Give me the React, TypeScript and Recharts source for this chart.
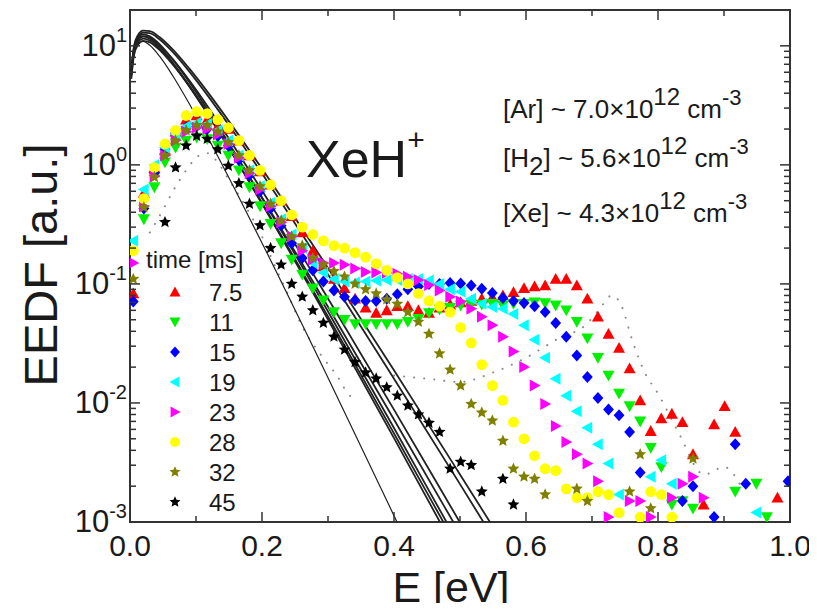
import React from "react";
import { ComposedChart, Line, Scatter, XAxis, YAxis, Customized } from "recharts";

const FONT = "'Liberation Sans', Arial, Helvetica, sans-serif";
const INK = "#1a1a1a";
const FRAME = "#333";

const WIDTH = 817;
const HEIGHT = 611;
const PLOT = { left: 130, right: 790, top: 10, bottom: 522 };
const X_AXIS_H = 40;
const Y_AXIS_W = 60;

// energy grid of the measured EEDFs (eV)
const ENERGY = [
  0.005, 0.021, 0.037, 0.053, 0.069, 0.085, 0.101, 0.117, 0.133, 0.149,
  0.165, 0.181, 0.197, 0.213, 0.229, 0.245, 0.261, 0.277, 0.293, 0.309,
  0.325, 0.341, 0.357, 0.373, 0.389, 0.405, 0.421, 0.437, 0.453, 0.469,
  0.485, 0.501, 0.517, 0.533, 0.549, 0.565, 0.581, 0.597, 0.613, 0.629,
  0.645, 0.661, 0.677, 0.693, 0.709, 0.725, 0.741, 0.757, 0.773, 0.789,
  0.805, 0.821, 0.837, 0.853, 0.869, 0.885, 0.901, 0.917, 0.933, 0.949,
  0.965, 0.981, 0.997,
];

// measured EEDF (a.u.) for each afterglow time, null where nothing was plotted
const EEDF_7_5 = [
  0.083, 0.58, 0.94, 1.32, 1.9, 2.4, 2.6, 2.4, 2.1, 2.0,
  1.6, 1.2, 0.88, 0.68, 0.5, 0.37, 0.27, 0.19, 0.14, 0.11,
  0.092, 0.075, 0.063, 0.057, 0.06, 0.065, 0.065, 0.06, 0.057, 0.063,
  0.067, 0.07, 0.072, 0.075, 0.077, 0.08, 0.085, 0.092, 0.095, 0.097,
  0.11, 0.11, 0.097, 0.075, 0.053, 0.038, 0.029, 0.0195, 0.0105, 0.0058,
  0.0074, 0.0081, 0.0069, 0.0037, 0.0014, 0.0066, 0.0094, 0.0057, null, null,
  null, 0.0016, null,
];
const EEDF_11 = [
  null, 0.35, 0.65, 1.05, 1.4, 1.6, 1.7, 1.65, 1.45, 1.2,
  0.9, 0.65, 0.45, 0.32, 0.22, 0.16, 0.12, 0.092, 0.073, 0.058,
  0.05, 0.046, 0.046, 0.046, 0.046, 0.046, 0.048, 0.051, 0.057, 0.061,
  0.063, 0.066, 0.067, 0.067, 0.068, 0.066, 0.068, 0.068, 0.07, 0.069,
  0.066, 0.06, 0.048, 0.035, 0.024, 0.017, 0.012, 0.0094, 0.007, 0.0042,
  0.0029, 0.0014, 0.0015, 0.0013, null, null, null, 0.0018, null, 0.0021,
  0.0011, null, null,
];
const EEDF_15 = [
  0.071, 0.43, 0.85, 1.35, 1.85, 2.05, 2.1, 2.0, 1.75, 1.45,
  1.1, 0.82, 0.6, 0.43, 0.31, 0.22, 0.165, 0.13, 0.105, 0.088,
  0.078, 0.073, 0.072, 0.072, 0.075, 0.082, 0.09, 0.095, 0.1, 0.1,
  0.102, 0.101, 0.097, 0.091, 0.084, 0.076, 0.072, 0.069, 0.065, 0.058,
  0.047, 0.036, 0.025, 0.0165, 0.011, 0.0088, 0.0079, 0.0057, 0.0026, null,
  null, null, 0.0015, 0.002, null, 0.0011, null, 0.0045, 0.0021, null,
  null, null, 0.0022,
];
const EEDF_19 = [
  0.23, 0.62, 1.0, 1.4, 1.8, 2.1, 2.25, 2.2, 1.95, 1.6,
  1.2, 0.9, 0.66, 0.48, 0.35, 0.26, 0.2, 0.15, 0.125, 0.11,
  0.105, 0.103, 0.105, 0.107, 0.108, 0.108, 0.11, 0.11, 0.107, 0.1,
  0.09, 0.086, 0.075, 0.068, 0.064, 0.062, 0.056, 0.045, 0.034, 0.024,
  0.016, 0.0115, 0.0085, 0.0062, 0.0045, 0.0031, 0.0017, null, null, 0.0024,
  0.0033, 0.0021, null, null, null, null, null, null, null, 0.0012,
  null, null, null,
];
const EEDF_23 = [
  0.15, 0.45, 0.8, 1.2, 1.6, 1.9, 2.05, 2.0, 1.8, 1.5,
  1.15, 0.85, 0.62, 0.45, 0.33, 0.25, 0.19, 0.16, 0.15, 0.15,
  0.145, 0.135, 0.126, 0.125, 0.124, 0.122, 0.115, 0.108, 0.098, 0.088,
  0.078, 0.071, 0.062, 0.053, 0.045, 0.036, 0.027, 0.02, 0.014, 0.0098,
  0.0064, 0.0047, 0.0037, 0.0031, 0.0022, 0.0011, null, 0.0015, 0.0015, 0.0011,
  null, 0.0016, 0.0021, 0.0024, 0.0016, null, null, null, null, null,
  null, null, null,
];
const EEDF_28 = [
  0.19, 0.52, 0.95, 1.5, 1.95, 2.6, 2.8, 2.7, 2.4, 2.05,
  1.6, 1.2, 0.9, 0.68, 0.5, 0.38, 0.3, 0.26, 0.23, 0.21,
  0.2, 0.183, 0.168, 0.148, 0.13, 0.113, 0.1, 0.083, 0.072, 0.065,
  0.058, 0.043, 0.032, 0.021, 0.014, 0.0105, 0.0069, 0.005, 0.0036, 0.0028,
  0.0027, 0.0019, 0.0016, 0.0016, 0.0018, 0.0017, 0.0012, null, 0.0011, 0.0018,
  0.0017, 0.0011, null, null, null, null, null, null, null, null,
  null, null, null,
];
const EEDF_32 = [
  0.11, 0.44, 0.79, 1.2, 1.6, 1.95, 2.15, 2.15, 1.9, 1.55,
  1.2, 0.9, 0.66, 0.47, 0.34, 0.25, 0.21, 0.165, 0.145, 0.128,
  0.115, 0.1, 0.09, 0.083, 0.074, 0.068, 0.058, 0.048, 0.038, 0.026,
  0.019, 0.014, 0.0098, 0.0083, 0.0071, 0.0048, 0.0028, 0.0024, 0.0023, 0.0017,
  null, null, 0.0019, 0.0015, null, null, null, 0.0018, 0.0037, 0.0013,
  null, null, null, 0.0034, null, null, null, null, null, null,
  null, null, null,
];
const EEDF_45 = [
  null, null, null, 0.33, 0.95, 1.45, 1.75, 1.65, 1.35, 0.98,
  0.7, 0.47, 0.31, 0.2, 0.145, 0.1, 0.078, 0.06, 0.047, 0.036,
  0.028, 0.022, 0.018, 0.016, 0.0135, 0.0115, 0.0095, 0.008, 0.0068, 0.0057,
  0.0028, 0.0032, 0.003, 0.0018, null, 0.0023, 0.0014, null, null, null,
  null, null, null, null, null, null, null, null, null, null,
  null, null, null, null, null, null, null, null, null, null,
  null, null, null,
];

const TIMES = ["7.5", "11", "15", "19", "23", "28", "32", "45"];
const MEASURED = [EEDF_7_5, EEDF_11, EEDF_15, EEDF_19, EEDF_23, EEDF_28, EEDF_32, EEDF_45];

const MARKERS = [
  { color: "#ff0000", kind: "up" },
  { color: "#00f000", kind: "down" },
  { color: "#0000ff", kind: "diamond" },
  { color: "#00ffff", kind: "left" },
  { color: "#ff00ff", kind: "right" },
  { color: "#ffff00", kind: "circle" },
  { color: "#808000", kind: "star" },
  { color: "#000000", kind: "star" },
];

// Maxwellian fits (solid black)
const FIT_E = [0.002, 0.006, 0.012, 0.02, 0.03, 0.045, 0.065, 0.09, 0.12, 0.16, 0.2, 0.3, 0.4, 0.5, 0.6];
const FIT_1 = [5.74, 8.89, 10.6, 10.9, 10.1, 8.14, 5.58, 3.25, 1.62, 0.607, 0.221, 0.0163, 0.00113, 0.0000763, 0.000005];
const FIT_2 = [5.89, 9.25, 11.3, 12.0, 11.5, 9.78, 7.21, 4.61, 2.56, 1.12, 0.47, 0.0503, 0.00506, 0.000493, 0.00005];
const FIT_3 = [5.61, 8.82, 10.8, 11.5, 11.1, 9.46, 7.03, 4.54, 2.55, 1.12, 0.481, 0.0532, 0.00554, 0.000561, 0.00006];
const FIT_4 = [6.09, 9.58, 11.7, 12.5, 12.0, 10.3, 7.66, 4.95, 2.78, 1.23, 0.527, 0.0587, 0.00616, 0.000627, 0.000066];
const FIT_5 = [5.27, 8.32, 10.2, 11.0, 10.7, 9.22, 6.96, 4.59, 2.64, 1.21, 0.533, 0.0642, 0.00727, 0.000798, 0.000087];
const FIT_6 = [5.72, 9.04, 11.1, 12.0, 11.7, 10.1, 7.69, 5.1, 2.96, 1.36, 0.61, 0.0754, 0.00879, 0.00099, 0.000112];
const FIT_7 = [6.03, 9.58, 11.9, 12.9, 12.8, 11.3, 8.85, 6.07, 3.67, 1.79, 0.845, 0.12, 0.016, 0.00208, 0.000264];
const FIT_8 = [6.22, 9.88, 12.3, 13.4, 13.3, 11.8, 9.3, 6.43, 3.93, 1.94, 0.928, 0.136, 0.0188, 0.00251, 0.00033];
const FITS = [FIT_1, FIT_2, FIT_3, FIT_4, FIT_5, FIT_6, FIT_7, FIT_8];

// model curves (gray dotted)
const MODEL_LOW_E = [0.03, 0.05, 0.065, 0.085, 0.105, 0.118, 0.13, 0.15, 0.175, 0.2, 0.22, 0.24, 0.26, 0.29, 0.315, 0.33, 0.345];
const MODEL_LOW = [0.27, 0.42, 0.6, 0.9, 1.2, 1.25, 1.1, 0.75, 0.45, 0.25, 0.14, 0.08, 0.045, 0.025, 0.0165, 0.012, 0.0105];
const MODEL_HIGH_E = [0.4, 0.45, 0.5, 0.55, 0.6, 0.65, 0.69, 0.71, 0.73, 0.745, 0.76, 0.78, 0.8, 0.83, 0.87, 0.9, 0.93];
const MODEL_HIGH = [0.017, 0.016, 0.015, 0.018, 0.024, 0.035, 0.045, 0.06, 0.08, 0.065, 0.035, 0.018, 0.012, 0.0058, 0.0025, 0.0029, 0.0018];

const X_TICKS = [0, 0.1, 0.2, 0.3, 0.4, 0.5, 0.6, 0.7, 0.8, 0.9, 1.0];
const DECADES = [0.001, 0.01, 0.1, 1];
const MANTISSAS = [1, 2, 3, 4, 5, 6, 7, 8, 9];
const Y_TICKS = [...DECADES.flatMap((d) => MANTISSAS.map((m) => +(d * m).toPrecision(3))), 10];

const SPECIES = ["Ar", "H2", "Xe"];
const DENSITY = ["7.0", "5.6", "4.3"];
const DENSITY_EXP = "12";

const pairs = (xs: number[], ys: (number | null)[]) =>
  xs.map((E, i) => ({ E, v: ys[i] })).filter((d) => d.v != null && d.v > 0);

function Marker({ cx, cy, kind, color, r = 6 }: any) {
  if (cx == null || cy == null) return null;
  const p = (pts: number[][]) => pts.map((q) => q.join(",")).join(" ");
  switch (kind) {
    case "up":
      return <polygon points={p([[cx, cy - r], [cx + r, cy + r * 0.8], [cx - r, cy + r * 0.8]])} fill={color} />;
    case "down":
      return <polygon points={p([[cx, cy + r], [cx + r, cy - r * 0.8], [cx - r, cy - r * 0.8]])} fill={color} />;
    case "left":
      return <polygon points={p([[cx - r, cy], [cx + r * 0.8, cy - r], [cx + r * 0.8, cy + r]])} fill={color} />;
    case "right":
      return <polygon points={p([[cx + r, cy], [cx - r * 0.8, cy - r], [cx - r * 0.8, cy + r]])} fill={color} />;
    case "diamond":
      return <polygon points={p([[cx, cy - r], [cx + r * 0.9, cy], [cx, cy + r], [cx - r * 0.9, cy]])} fill={color} />;
    case "circle":
      return <circle cx={cx} cy={cy} r={r * 0.9} fill={color} />;
    default: {
      const pts: number[][] = [];
      for (let k = 0; k < 10; k++) {
        const a = -Math.PI / 2 + (k * Math.PI) / 5;
        const rr = k % 2 === 0 ? r * 1.05 : r * 0.48;
        pts.push([cx + rr * Math.cos(a), cy + rr * Math.sin(a)]);
      }
      return <polygon points={p(pts)} fill={color} />;
    }
  }
}

// inward ticks on bottom and top edges, labels under the bottom one
const XTick = (props: any) => {
  const { x, payload } = props;
  const v = payload.value;
  const major = Math.abs(v * 5 - Math.round(v * 5)) < 1e-6;
  const len = major ? 10 : 6;
  return (
    <g>
      <line x1={x} x2={x} y1={PLOT.bottom} y2={PLOT.bottom - len} stroke={FRAME} strokeWidth={1.5} />
      <line x1={x} x2={x} y1={PLOT.top} y2={PLOT.top + len} stroke={FRAME} strokeWidth={1.5} />
      {major && (
        <text x={x} y={PLOT.bottom + 34} textAnchor="middle" fontSize={30} fontFamily={FONT} fill={INK}>
          {v.toFixed(1)}
        </text>
      )}
    </g>
  );
};

// inward ticks on left and right edges, powers of ten on the left
const YTick = (props: any) => {
  const { y, payload } = props;
  const v = payload.value;
  const lg = Math.log10(v);
  const major = Math.abs(lg - Math.round(lg)) < 1e-6;
  const len = major ? 10 : 6;
  return (
    <g>
      <line x1={PLOT.left} x2={PLOT.left + len} y1={y} y2={y} stroke={FRAME} strokeWidth={1.5} />
      <line x1={PLOT.right} x2={PLOT.right - len} y1={y} y2={y} stroke={FRAME} strokeWidth={1.5} />
      {major && (
        <text x={PLOT.left - 3} y={y + 10} textAnchor="end" fontSize={31} fontFamily={FONT} fill={INK}>
          10
          <tspan dy={-14} fontSize={20}>
            {String(Math.round(lg))}
          </tspan>
        </text>
      )}
    </g>
  );
};

const Species = ({ name }: { name: string }) => {
  const m = name.match(/^([A-Za-z]+)(\d*)$/);
  const base = m ? m[1] : name;
  const sub = m ? m[2] : "";
  return (
    <>
      [{base}
      {sub && <tspan dy={8}>{sub}</tspan>}
      <tspan dy={sub ? -8 : 0}>]</tspan>
    </>
  );
};

const Annotations = () => (
  <g fontFamily={FONT} fill={INK}>
    <rect x={PLOT.left} y={PLOT.top} width={PLOT.right - PLOT.left} height={PLOT.bottom - PLOT.top} fill="none" stroke={FRAME} strokeWidth={2} />

    <text x={306} y={177} fontSize={52}>
      XeH<tspan dy={-27} fontSize={30}>+</tspan>
    </text>

    {SPECIES.map((s, i) => (
      <text key={s} x={503} y={[118, 167, 222][i]} fontSize={26}>
        <Species name={s} />
        <tspan>{` ~ ${DENSITY[i]}×10`}</tspan>
        <tspan dy={-13} fontSize={24}>{DENSITY_EXP}</tspan>
        <tspan dy={13}> cm</tspan>
        <tspan dy={-13} fontSize={22}>-3</tspan>
      </text>
    ))}

    <text x={146} y={268} fontSize={24}>time [ms]</text>
    {TIMES.map((t, i) => (
      <g key={t}>
        <Marker cx={175} cy={292 + 30 * i} kind={MARKERS[i].kind} color={MARKERS[i].color} r={5.5} />
        <text x={209} y={301 + 30 * i} fontSize={24}>{t}</text>
      </g>
    ))}

    <text transform="translate(57,265) rotate(-90)" textAnchor="middle" fontSize={47}>EEDF [a.u.]</text>
    <text x={451} y={602} textAnchor="middle" fontSize={43}>E [eV]</text>
  </g>
);

export default function App() {
  return (
    <div style={{ margin: -8, width: WIDTH, height: HEIGHT, background: "#fff" }}>
      <ComposedChart
        width={WIDTH}
        height={HEIGHT}
        margin={{
          top: PLOT.top,
          right: WIDTH - PLOT.right,
          bottom: HEIGHT - PLOT.bottom - X_AXIS_H,
          left: PLOT.left - Y_AXIS_W,
        }}
      >
        <XAxis
          xAxisId="e"
          type="number"
          dataKey="E"
          domain={[0, 1]}
          ticks={X_TICKS}
          interval={0}
          height={X_AXIS_H}
          tickLine={false}
          axisLine={false}
          tick={XTick}
          allowDataOverflow
        />
        <YAxis
          yAxisId="f"
          type="number"
          dataKey="v"
          scale="log"
          domain={[0.001, 20]}
          ticks={Y_TICKS}
          interval={0}
          width={Y_AXIS_W}
          tickLine={false}
          axisLine={false}
          tick={YTick}
          allowDataOverflow
        />

        <Line
          xAxisId="e"
          yAxisId="f"
          data={pairs(MODEL_LOW_E, MODEL_LOW)}
          dataKey="v"
          type="monotone"
          stroke="#8a8a8a"
          strokeWidth={2}
          strokeDasharray="0.1 10"
          strokeLinecap="round"
          dot={false}
          isAnimationActive={false}
        />
        <Line
          xAxisId="e"
          yAxisId="f"
          data={pairs(MODEL_HIGH_E, MODEL_HIGH)}
          dataKey="v"
          type="monotone"
          stroke="#8a8a8a"
          strokeWidth={2}
          strokeDasharray="0.1 10"
          strokeLinecap="round"
          dot={false}
          isAnimationActive={false}
        />

        {MEASURED.map((vals, i) => (
          <Scatter
            key={TIMES[i]}
            xAxisId="e"
            yAxisId="f"
            name={TIMES[i]}
            data={pairs(ENERGY, vals)}
            isAnimationActive={false}
            shape={(p: any) => <Marker cx={p.cx} cy={p.cy} kind={MARKERS[i].kind} color={MARKERS[i].color} />}
          />
        ))}

        {FITS.map((vals, i) => (
          <Line
            key={`fit${i}`}
            xAxisId="e"
            yAxisId="f"
            data={pairs(FIT_E, vals)}
            dataKey="v"
            type="monotone"
            stroke="#222"
            strokeWidth={i === 0 ? 1.2 : 1.8}
            dot={false}
            isAnimationActive={false}
          />
        ))}

        <Customized component={<Annotations />} />
      </ComposedChart>
    </div>
  );
}
